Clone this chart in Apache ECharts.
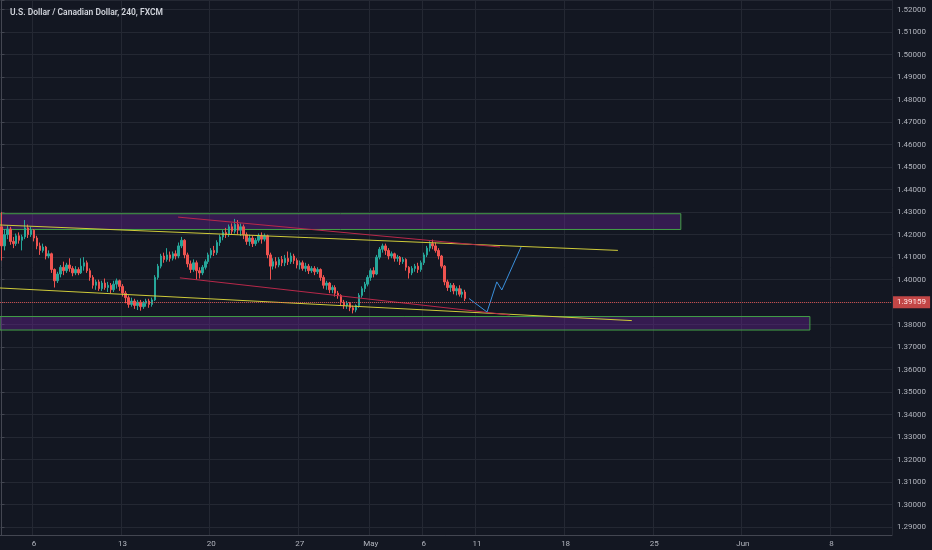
<!DOCTYPE html>
<html><head><meta charset="utf-8">
<script src="https://cdn.jsdelivr.net/npm/echarts@6/dist/echarts.min.js"></script>
<style>html,body{margin:0;padding:0;background:#131722;overflow:hidden}#c{width:932px;height:550px}</style>
</head><body><div id="c"></div><script>
const chartTitle = 'U.S. Dollar / Canadian Dollar, 240, FXCM';
const tickDays = ['2020-04-06','2020-04-13','2020-04-20','2020-04-27','2020-05-01','2020-05-06','2020-05-11','2020-05-18','2020-05-25','2020-06-01','2020-06-08'];
const tickTexts = ['6','13','20','27','May','6','11','18','25','Jun','8'];
// [open, close, low, high]
const candles = [
[1.4235,1.4150,1.4085,1.4300],[1.4150,1.4200,1.4130,1.4225],[1.4200,1.4225,1.4180,1.4240],[1.4225,1.4170,1.4155,1.4235],
[1.4170,1.4160,1.4140,1.4190],[1.4160,1.4195,1.4150,1.4205],[1.4195,1.4175,1.4160,1.4210],[1.4175,1.4190,1.4130,1.4200],
[1.4190,1.4230,1.4180,1.4265],[1.4230,1.4200,1.4185,1.4245],[1.4200,1.4220,1.4190,1.4235],[1.4220,1.4185,1.4170,1.4225],
[1.4185,1.4150,1.4135,1.4195],[1.4150,1.4130,1.4110,1.4165],[1.4130,1.4145,1.4120,1.4160],[1.4145,1.4105,1.4090,1.4150],
[1.4105,1.4115,1.4095,1.4130],[1.4115,1.4045,1.4030,1.4120],[1.4045,1.3995,1.3965,1.4050],[1.3995,1.4025,1.3985,1.4035],
[1.4025,1.4055,1.4010,1.4065],[1.4055,1.4040,1.4020,1.4080],[1.4040,1.4065,1.4030,1.4075],[1.4065,1.4050,1.4035,1.4095],
[1.4050,1.4030,1.4015,1.4060],[1.4030,1.4045,1.4020,1.4060],[1.4045,1.4030,1.4020,1.4055],[1.4030,1.4060,1.4025,1.4095],
[1.4060,1.4075,1.4040,1.4100],[1.4075,1.4040,1.4030,1.4085],[1.4040,1.4010,1.3995,1.4050],[1.4010,1.3975,1.3960,1.4020],
[1.3975,1.3990,1.3955,1.4000],[1.3990,1.3960,1.3950,1.4000],[1.3960,1.3985,1.3950,1.3995],[1.3985,1.3965,1.3955,1.4005],
[1.3965,1.3975,1.3945,1.3990],[1.3975,1.3955,1.3940,1.3985],[1.3955,1.3980,1.3945,1.3995],[1.3980,1.3995,1.3960,1.4005],
[1.3995,1.3970,1.3950,1.4000],[1.3970,1.3940,1.3925,1.3980],[1.3940,1.3920,1.3895,1.3950],[1.3920,1.3890,1.3875,1.3930],
[1.3890,1.3905,1.3880,1.3920],[1.3905,1.3885,1.3870,1.3915],[1.3885,1.3900,1.3865,1.3910],[1.3900,1.3880,1.3862,1.3910],
[1.3880,1.3895,1.3870,1.3905],[1.3895,1.3905,1.3880,1.3915],[1.3905,1.3890,1.3875,1.3915],[1.3890,1.3910,1.3880,1.3920],
[1.3910,1.4010,1.3905,1.4020],[1.4010,1.4060,1.4000,1.4070],[1.4060,1.4105,1.4050,1.4115],[1.4105,1.4090,1.4075,1.4120],
[1.4090,1.4110,1.4080,1.4140],[1.4110,1.4095,1.4080,1.4125],[1.4095,1.4115,1.4085,1.4125],[1.4115,1.4105,1.4090,1.4130],
[1.4105,1.4150,1.4095,1.4165],[1.4150,1.4175,1.4140,1.4190],[1.4175,1.4110,1.4095,1.4180],[1.4110,1.4070,1.4055,1.4120],
[1.4070,1.4045,1.4030,1.4085],[1.4045,1.4075,1.4035,1.4090],[1.4075,1.4040,1.4000,1.4085],[1.4040,1.4030,1.4005,1.4055],
[1.4030,1.4055,1.4020,1.4065],[1.4055,1.4080,1.4045,1.4090],[1.4080,1.4110,1.4070,1.4120],[1.4110,1.4130,1.4095,1.4140],
[1.4130,1.4120,1.4105,1.4150],[1.4120,1.4165,1.4110,1.4175],[1.4165,1.4190,1.4150,1.4200],[1.4190,1.4210,1.4175,1.4220],
[1.4210,1.4200,1.4185,1.4230],[1.4200,1.4235,1.4190,1.4245],[1.4235,1.4215,1.4200,1.4250],[1.4215,1.4245,1.4205,1.4270],
[1.4245,1.4220,1.4200,1.4265],[1.4220,1.4235,1.4195,1.4250],[1.4235,1.4200,1.4180,1.4245],[1.4200,1.4170,1.4155,1.4210],
[1.4170,1.4185,1.4150,1.4200],[1.4185,1.4160,1.4145,1.4195],[1.4160,1.4175,1.4150,1.4185],[1.4175,1.4195,1.4165,1.4205],
[1.4195,1.4180,1.4160,1.4210],[1.4180,1.4195,1.4170,1.4205],[1.4195,1.4110,1.4095,1.4200],[1.4110,1.4060,1.4000,1.4120],
[1.4060,1.4080,1.4045,1.4095],[1.4080,1.4065,1.4050,1.4100],[1.4065,1.4090,1.4055,1.4100],[1.4090,1.4075,1.4060,1.4105],
[1.4075,1.4095,1.4060,1.4110],[1.4095,1.4080,1.4065,1.4125],[1.4080,1.4105,1.4070,1.4120],[1.4105,1.4085,1.4070,1.4115],
[1.4085,1.4065,1.4050,1.4095],[1.4065,1.4075,1.4045,1.4085],[1.4075,1.4050,1.4040,1.4085],[1.4050,1.4060,1.4035,1.4075],
[1.4060,1.4040,1.4025,1.4070],[1.4040,1.4050,1.4030,1.4060],[1.4050,1.4035,1.4020,1.4060],[1.4035,1.4045,1.4025,1.4055],
[1.4045,1.4010,1.3995,1.4050],[1.4010,1.3975,1.3960,1.4020],[1.3975,1.3985,1.3955,1.3995],[1.3985,1.3955,1.3940,1.3990],
[1.3955,1.3965,1.3940,1.3975],[1.3965,1.3940,1.3925,1.3975],[1.3940,1.3930,1.3915,1.3950],[1.3930,1.3900,1.3885,1.3935],
[1.3900,1.3885,1.3870,1.3910],[1.3885,1.3895,1.3870,1.3905],[1.3895,1.3875,1.3860,1.3900],[1.3875,1.3865,1.3850,1.3885],
[1.3865,1.3885,1.3855,1.3890],[1.3885,1.3930,1.3875,1.3940],[1.3930,1.3960,1.3920,1.3970],[1.3960,1.3980,1.3945,1.3990],
[1.3980,1.4010,1.3970,1.4020],[1.4010,1.4040,1.3995,1.4050],[1.4040,1.4025,1.4010,1.4055],[1.4025,1.4100,1.4020,1.4110],
[1.4100,1.4135,1.4090,1.4145],[1.4135,1.4150,1.4120,1.4160],[1.4150,1.4130,1.4110,1.4160],[1.4130,1.4105,1.4090,1.4140],
[1.4105,1.4115,1.4095,1.4125],[1.4115,1.4095,1.4080,1.4120],[1.4095,1.4100,1.4080,1.4110],[1.4100,1.4080,1.4065,1.4105],
[1.4080,1.4090,1.4070,1.4100],[1.4090,1.4055,1.4040,1.4095],[1.4055,1.4030,1.4005,1.4060],[1.4030,1.4050,1.4020,1.4060],
[1.4050,1.4060,1.4035,1.4070],[1.4060,1.4045,1.4030,1.4075],[1.4045,1.4075,1.4035,1.4085],[1.4075,1.4110,1.4065,1.4120],
[1.4110,1.4140,1.4100,1.4150],[1.4140,1.4160,1.4125,1.4170],[1.4160,1.4150,1.4135,1.4178],[1.4150,1.4130,1.4120,1.4165],
[1.4130,1.4105,1.4090,1.4140],[1.4105,1.4060,1.4050,1.4110],[1.4060,1.3990,1.3975,1.4065],[1.3990,1.3965,1.3950,1.4000],
[1.3965,1.3975,1.3945,1.3985],[1.3975,1.3950,1.3935,1.3985],[1.3950,1.3960,1.3930,1.3970],[1.3960,1.3935,1.3925,1.3975],
[1.3935,1.3945,1.3920,1.3960],[1.3945,1.39159,1.3905,1.3955]
];
const lastPrice = 1.39159;
// zones: [xStart, priceTop, xEnd, priceBottom] in bar-index units
const zones = [[-0.5, 1.4293, 230.0, 1.4223], [-0.5, 1.3836, 273.7, 1.3776]];
const upperYellow = [[-0.5, 1.4243], [208.7, 1.4130]];
const lowerYellow = [[-0.5, 1.3963], [213.4, 1.3818]];
const upperRed = [[59.8, 1.4278], [168.8, 1.4145]];
const lowerRed = [[60.4, 1.4008], [172.1, 1.3843]];
const projection = [[158.3, 1.3916], [164.4, 1.3856], [167.7, 1.3990], [169.4, 1.3954], [175.9, 1.4145]];

const SLOTS = 302;
const categories = [];
let d = new Date(Date.UTC(2020, 3, 2));
let skipFirst = true;
while (categories.length < SLOTS) {
  const wd = d.getUTCDay();
  if (wd !== 0 && wd !== 6) {
    for (let h = 0; h < 24; h += 4) {
      if (skipFirst) { skipFirst = false; continue; }
      if (categories.length < SLOTS) categories.push(d.toISOString().slice(0, 10) + ' ' + String(h).padStart(2, '0') + ':00');
    }
  }
  d = new Date(d.getTime() + 86400000);
}
const labelMap = {};
tickDays.forEach((t, i) => { labelMap[t + ' 00:00'] = tickTexts[i]; });

const FONT = 'Roboto';
const gridColor = '#242833';
const textColor = '#b2b5be';
const chart = echarts.init(document.getElementById('c'), null, { renderer: 'canvas' });
function seg(data, color) {
  return { type: 'line', xAxisIndex: 1, yAxisIndex: 0, data: data, symbol: 'none', silent: true,
    lineStyle: { color: color, width: 1 }, z: 3 };
}
chart.setOption({
  animation: false,
  backgroundColor: '#131722',
  title: { text: chartTitle, left: 5, top: 3,
    textStyle: { color: '#d1d4dc', fontSize: 8.5, fontWeight: 600, fontFamily: FONT } },
  grid: { left: 0, right: 40, top: 0, bottom: 15 },
  xAxis: [
    { type: 'category', data: categories, boundaryGap: true,
      axisLine: { show: true, lineStyle: { color: '#434651', width: 1 } },
      axisTick: { show: false },
      axisLabel: { interval: (i, v) => v in labelMap, formatter: v => labelMap[v] || '',
        color: textColor, fontSize: 8, fontFamily: FONT, margin: 5 },
      splitLine: { show: true, interval: (i, v) => v in labelMap, lineStyle: { color: gridColor, width: 1 } } },
    { type: 'value', min: -0.5, max: SLOTS - 0.5, show: false }
  ],
  yAxis: {
    type: 'value', position: 'right', min: 1.2865, max: 1.5243, scale: true,
    splitNumber: 24, minInterval: 0.01, maxInterval: 0.01,
    axisLine: { show: true, lineStyle: { color: '#434651' } },
    axisTick: { show: true, length: 3, lineStyle: { color: '#434651' } },
    axisLabel: { color: textColor, fontSize: 8, fontFamily: FONT, margin: 5,
      formatter: v => Math.abs(v * 100 - Math.round(v * 100)) < 1e-6 ? v.toFixed(5) : '' },
    splitLine: { show: true, lineStyle: { color: gridColor, width: 1 } }
  },
  series: [
    { type: 'custom', xAxisIndex: 1, yAxisIndex: 0, data: zones, silent: true, z: 1,
      encode: { x: [0, 2], y: [1, 3] },
      renderItem: (params, api) => {
        const p1 = api.coord([api.value(0), api.value(1)]);
        const p2 = api.coord([api.value(2), api.value(3)]);
        return { type: 'rect', shape: { x: p1[0], y: p1[1], width: p2[0] - p1[0], height: p2[1] - p1[1] },
          style: { fill: 'rgba(105, 35, 150, 0.4)', stroke: '#43a047', lineWidth: 1 } };
      } },
    seg(upperYellow, '#cfcb3a'),
    seg(lowerYellow, '#cfcb3a'),
    seg(upperRed, '#b8284a'),
    seg(lowerRed, '#b8284a'),
    seg(projection, '#3a8fdc'),
    { type: 'candlestick', xAxisIndex: 0, yAxisIndex: 0, data: candles, barWidth: 2, z: 2,
      itemStyle: { color: '#26a69a', color0: '#ef5350', borderColor: '#26a69a', borderColor0: '#ef5350', borderWidth: 1 },
      markLine: { silent: true, symbol: ['none', 'none'], animation: false,
        lineStyle: { color: '#ef5350', type: 'dotted', width: 1, opacity: 0.8 },
        label: { show: true, position: 'end', distance: 1, formatter: lastPrice.toFixed(5),
          backgroundColor: '#ef5350', color: '#ffffff', fontSize: 8, fontFamily: FONT, padding: [2, 4, 2, 4] },
        emphasis: { disabled: true },
        data: [{ yAxis: lastPrice }] } }
  ]
});
</script></body></html>
